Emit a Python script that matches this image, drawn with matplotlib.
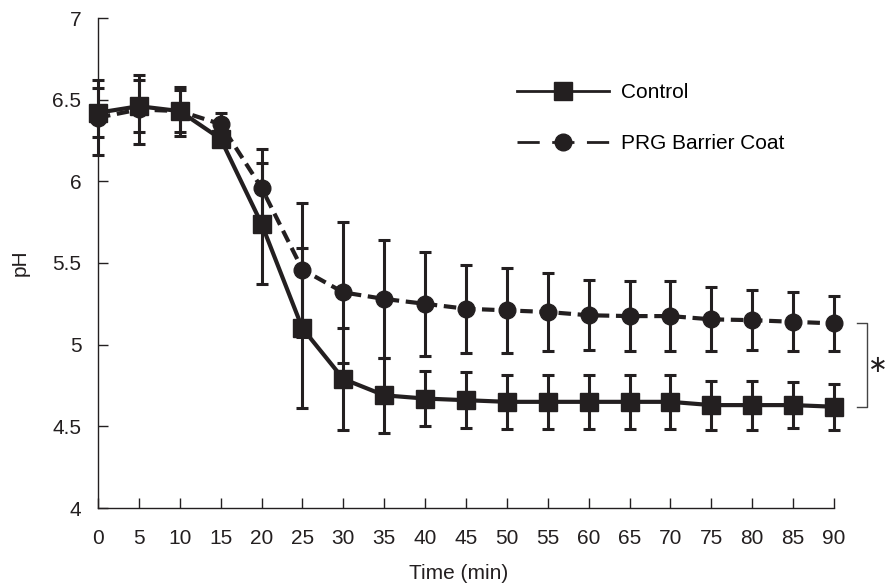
import matplotlib.pyplot as plt
from matplotlib.lines import Line2D

# pH over time, mean +/- error
time = [0, 5, 10, 15, 20, 25, 30, 35, 40, 45, 50, 55, 60, 65, 70, 75, 80, 85, 90]
control = [6.42, 6.46, 6.43, 6.26, 5.74, 5.10, 4.79, 4.69, 4.67, 4.66, 4.65,
           4.65, 4.65, 4.65, 4.65, 4.63, 4.63, 4.63, 4.62]
control_err = [0.15, 0.16, 0.13, 0.04, 0.37, 0.49, 0.31, 0.23, 0.17, 0.17, 0.165,
               0.165, 0.165, 0.165, 0.165, 0.15, 0.15, 0.14, 0.14]
prg = [6.39, 6.44, 6.43, 6.35, 5.96, 5.46, 5.32, 5.28, 5.25, 5.22, 5.21,
       5.20, 5.18, 5.175, 5.175, 5.155, 5.15, 5.14, 5.13]
prg_err = [0.23, 0.21, 0.15, 0.07, 0.24, 0.41, 0.43, 0.36, 0.32, 0.27, 0.26,
           0.24, 0.215, 0.215, 0.215, 0.195, 0.185, 0.18, 0.17]

ink = "#231f20"
fs = 15
plt.rcParams["font.family"] = ["Liberation Sans", "DejaVu Sans"]

fig = plt.figure(figsize=(8.88, 5.84), dpi=100)
ax = fig.add_axes([98 / 888, 1 - 508 / 584, (834 - 98) / 888, (508 - 18) / 584])

ax.errorbar(time, control, yerr=control_err, fmt="-s", color=ink, lw=3,
            ms=13, elinewidth=2.2, capsize=4, capthick=2.2, clip_on=False, zorder=3)
ax.errorbar(time, prg, yerr=prg_err, fmt="--o", color=ink, lw=3, dashes=(3, 1.6),
            ms=12, elinewidth=2.2, capsize=4, capthick=2.2, clip_on=False, zorder=4)

# significance bracket at the last time point
bx0, bx1 = 92.8, 94.0
ax.plot([bx0, bx1, bx1, bx0], [prg[-1], prg[-1], control[-1], control[-1]],
        color="#444444", lw=1, clip_on=False)
ax.text(95.4, (prg[-1] + control[-1]) / 2, "\u2217", fontsize=17, ha="center",
        va="center", color=ink, family=["DejaVu Sans"])

ax.set_xlim(0, 90)
ax.set_ylim(4, 7)
ax.set_xticks(time)
ax.set_yticks([4, 4.5, 5, 5.5, 6, 6.5, 7])
ax.set_yticklabels(["4", "4.5", "5", "5.5", "6", "6.5", "7"])
ax.tick_params(direction="in", length=7, width=1, labelsize=fs, colors=ink)
ax.tick_params(axis="x", pad=15)
ax.tick_params(axis="y", pad=12)
for s in ["top", "right"]:
    ax.spines[s].set_visible(False)
for s in ["left", "bottom"]:
    ax.spines[s].set_color(ink)
    ax.spines[s].set_linewidth(1)

ax.set_xlabel("Time (min)", fontsize=fs, color=ink, labelpad=8)
ax.set_ylabel("pH", fontsize=fs, color=ink, labelpad=16)
ax.xaxis.set_label_coords(0.49, -0.115)

handles = [
    Line2D([], [], color=ink, lw=2, marker="s", ms=13),
    Line2D([], [], color=ink, lw=2, marker="o", ms=12, dashes=(8, 4.5)),
]
fig.legend(handles, ["Control", "PRG Barrier Coat"], loc="upper left",
           bbox_to_anchor=(517 / 888, 1 - 83 / 584), frameon=False,
           fontsize=fs, handlelength=4.4, handletextpad=0.58, labelspacing=1.55,
           borderpad=0, borderaxespad=0)

fig.savefig("out.png", dpi=100)
